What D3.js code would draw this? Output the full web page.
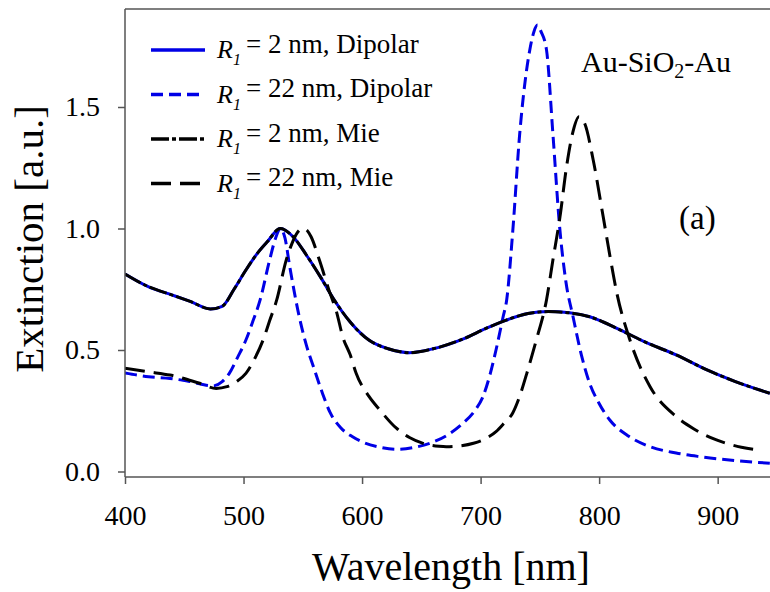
<!DOCTYPE html>
<html>
<head>
<meta charset="utf-8">
<script src="https://cdn.jsdelivr.net/npm/d3@7"></script>
<style>
    body { margin: 0; background: #fff; }
    svg { display: block; }
</style>
</head>
<body>
<div id="chart"></div>
<script>

// R1 = 2 nm, dipolar model (the Mie curve lies right on top of it)
var dip2Wl  = [400, 420, 440, 455, 472, 482, 492, 502, 512, 520, 531, 542, 553, 565, 576, 590, 606, 622, 640, 660, 685, 705, 720, 740, 757, 775, 792, 815, 840, 865, 891, 915, 944];
var dip2Ext = [0.813, 0.76, 0.726, 0.70, 0.669, 0.68, 0.75, 0.829, 0.90, 0.945, 1.0, 0.965, 0.891, 0.80, 0.71, 0.615, 0.54, 0.505, 0.489, 0.505, 0.545, 0.59, 0.62, 0.65, 0.658, 0.653, 0.637, 0.589, 0.53, 0.48, 0.418, 0.37, 0.322];

// R1 = 2 nm, Mie
var mie2Wl  = [400, 420, 440, 455, 472, 482, 492, 502, 512, 520, 531, 542, 553, 565, 576, 590, 606, 622, 640, 660, 685, 705, 720, 740, 757, 775, 792, 815, 840, 865, 891, 915, 944];
var mie2Ext = [0.813, 0.76, 0.726, 0.70, 0.669, 0.68, 0.75, 0.829, 0.90, 0.945, 1.0, 0.965, 0.891, 0.80, 0.71, 0.615, 0.54, 0.505, 0.489, 0.505, 0.545, 0.59, 0.62, 0.65, 0.658, 0.653, 0.637, 0.589, 0.53, 0.48, 0.418, 0.37, 0.322];

// R1 = 22 nm, dipolar
var dip22Wl  = [400, 420, 438, 455, 474, 482, 488, 495, 502, 508, 514, 522, 527, 531, 535, 539, 547, 553, 559, 566, 573, 582, 592, 601, 615, 629, 643, 657, 672, 685, 695, 702, 708, 713, 719, 722, 727, 733, 741.5, 745, 748, 751, 755.6, 761, 766.8, 772, 778, 785, 792, 800, 809, 825, 843, 865, 885, 915, 944];
var dip22Ext = [0.405, 0.39, 0.383, 0.37, 0.352, 0.37, 0.404, 0.47, 0.541, 0.62, 0.706, 0.87, 0.96, 1.0, 0.96, 0.843, 0.637, 0.52, 0.431, 0.33, 0.243, 0.18, 0.143, 0.12, 0.10, 0.091, 0.098, 0.116, 0.15, 0.198, 0.25, 0.308, 0.40, 0.5, 0.637, 0.706, 0.98, 1.39, 1.735, 1.81, 1.837, 1.81, 1.735, 1.39, 1.0, 0.78, 0.637, 0.48, 0.363, 0.28, 0.212, 0.145, 0.102, 0.076, 0.061, 0.045, 0.034];

// R1 = 22 nm, Mie
var mie22Wl  = [400, 420, 438, 463, 477, 486, 494, 502, 510, 516.5, 522, 528, 536, 541, 545, 550, 554, 557, 564, 573, 578, 584, 590, 595, 606, 615, 629, 640, 651.5, 665, 671, 682, 694, 704, 713, 720, 727, 733, 739, 747, 755.6, 761, 767, 772.5, 778, 783, 788, 795, 803.4, 809, 815, 826, 843, 865, 880, 899, 920, 936];
var mie22Ext = [0.425, 0.41, 0.397, 0.363, 0.342, 0.349, 0.37, 0.404, 0.47, 0.541, 0.62, 0.706, 0.87, 0.94, 0.98, 1.0, 0.99, 0.966, 0.87, 0.733, 0.665, 0.55, 0.48, 0.404, 0.308, 0.253, 0.178, 0.14, 0.116, 0.104, 0.102, 0.105, 0.116, 0.135, 0.164, 0.20, 0.24, 0.31, 0.404, 0.541, 0.706, 0.87, 1.049, 1.254, 1.40, 1.46, 1.43, 1.282, 1.049, 0.89, 0.733, 0.541, 0.349, 0.226, 0.175, 0.13, 0.10, 0.088];

var xTicks = [400, 500, 600, 700, 800, 900];
var yTicks = [0.0, 0.5, 1.0, 1.5];
var legendLabels = ["= 2 nm, Dipolar", "= 22 nm, Dipolar", "= 2 nm, Mie", "= 22 nm, Mie"];

// line styles in legend order
var styles = [
    {color: "#0000e6", dash: null},
    {color: "#0000e6", dash: "12,6"},
    {color: "#000", dash: "18,3,4,3"},
    {color: "#000", dash: "20,9"}
];

var FONT = "Liberation Serif, Times New Roman, serif";

function pairs(wl, ext) {
    return wl.map(function(w, i) { return [w, ext[i]]; });
}

// small helper so every label gets the serif face
function label(parent, px, x, y, str) {
    return parent.append("text")
        .attr("x", x).attr("y", y)
        .attr("font-family", FONT)
        .attr("font-size", px)
        .attr("fill", "#000")
        .text(str);
}

var width = 770, height = 592;
var svg = d3.select("#chart").append("svg").attr("width", width).attr("height", height);

var x = d3.scaleLinear().domain([400, 945]).range([125, 771]);
var y = d3.scaleLinear().domain([0, 1.9]).range([471.5, 9.8]);
var axisY = 477; // x axis sits a little below zero

var line = d3.line()
    .x(function(d) { return x(d[0]); })
    .y(function(d) { return y(d[1]); })
    .curve(d3.curveMonotoneX);

svg.append("clipPath").attr("id", "clip")
    .append("rect").attr("x", x(400)).attr("y", 9).attr("width", width - x(400)).attr("height", axisY - 9);

var plot = svg.append("g").attr("clip-path", "url(#clip)");

// blue first, black Mie curves drawn over them
var series = [
    {data: pairs(dip2Wl, dip2Ext), style: styles[0]},
    {data: pairs(dip22Wl, dip22Ext), style: styles[1]},
    {data: pairs(mie2Wl, mie2Ext), style: styles[2]},
    {data: pairs(mie22Wl, mie22Ext), style: styles[3]}
];

series.forEach(function(s) {
    plot.append("path")
        .datum(s.data)
        .attr("d", line)
        .attr("fill", "none")
        .attr("stroke", s.style.color)
        .attr("stroke-width", 3)
        .attr("stroke-dasharray", s.style.dash);
});

// frame: left axis, bottom axis, top line
var frame = svg.append("g").attr("stroke", "#555").attr("stroke-width", 1.5);
frame.append("line").attr("x1", x(400)).attr("x2", x(400)).attr("y1", 9).attr("y2", axisY);
frame.append("line").attr("x1", x(400)).attr("x2", width).attr("y1", axisY).attr("y2", axisY);
frame.append("line").attr("x1", x(400)).attr("x2", width).attr("y1", 9).attr("y2", 9);

var xAxis = svg.append("g")
    .attr("transform", "translate(0," + axisY + ")")
    .call(d3.axisBottom(x).tickValues(xTicks).tickSize(7).tickSizeOuter(0).tickPadding(21).tickFormat(d3.format("d")));
var yAxis = svg.append("g")
    .attr("transform", "translate(" + x(400) + ",0)")
    .call(d3.axisLeft(y).tickValues(yTicks).tickSize(7).tickSizeOuter(0).tickPadding(18).tickFormat(d3.format(".1f")));

[xAxis, yAxis].forEach(function(a) {
    a.attr("font-family", FONT).attr("font-size", 28);
    a.select(".domain").remove();
    a.selectAll(".tick line").attr("stroke", "#555").attr("stroke-width", 1.5);
    a.selectAll(".tick text").attr("fill", "#000");
});

// axis titles
label(svg, 40, 451, 580, "Wavelength [nm]").attr("text-anchor", "middle");
label(svg, 41, 0, 0, "Extinction [a.u.]")
    .attr("transform", "translate(43,239) rotate(-90)")
    .attr("text-anchor", "middle");

// legend
var legend = svg.append("g");
legendLabels.forEach(function(txt, i) {
    var ly = 50 + i * 44.5;
    legend.append("line")
        .attr("x1", 151).attr("x2", 205).attr("y1", ly).attr("y2", ly)
        .attr("stroke", styles[i].color)
        .attr("stroke-width", 3.5)
        .attr("stroke-dasharray", styles[i].dash);
    label(legend, 26, 217, ly + 8.3, "R").attr("font-style", "italic");
    label(legend, 16, 233, ly + 15, "1").attr("font-style", "italic");
    label(legend, 27, 246, ly + 2.7, txt);
});

// material label and panel letter
var title = label(svg, 30, 581, 72, "");
title.append("tspan").text("Au-SiO");
title.append("tspan").attr("dy", 6).attr("font-size", 20).text("2");
title.append("tspan").attr("dy", -6).text("-Au");

label(svg, 33, 679, 229, "(a)");

</script>
</body>
</html>
